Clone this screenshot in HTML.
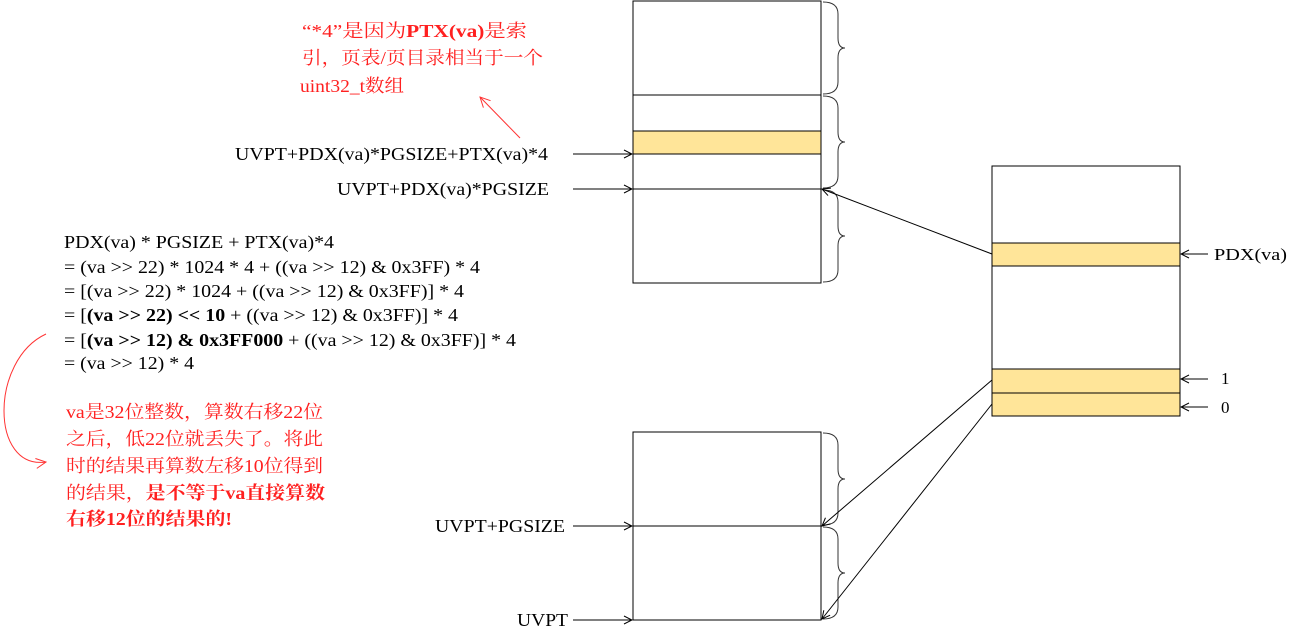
<!DOCTYPE html>
<html><head><meta charset="utf-8"><style>
html,body{margin:0;padding:0;background:#fff;}
svg{display:block;}
text{font-family:"Liberation Serif","Noto Serif CJK SC","Noto Sans CJK SC",serif;}
</style></head><body>
<svg width="1297" height="642" viewBox="0 0 1297 642" xmlns="http://www.w3.org/2000/svg">
<defs>
<marker id="ab" markerWidth="10" markerHeight="10" refX="9" refY="5" orient="auto" markerUnits="userSpaceOnUse"><path d="M1,1 L9,5 L1,9" fill="none" stroke="#000" stroke-width="1"/></marker>
<marker id="ar" markerWidth="12" markerHeight="12" refX="11" refY="6" orient="auto" markerUnits="userSpaceOnUse"><path d="M1,1 L11,6 L1,11" fill="none" stroke="#f33" stroke-width="1"/></marker>
</defs>
<g>
<rect x="633" y="1" width="188" height="282" fill="#fff" stroke="#000"/>
<rect x="633" y="131" width="188" height="23" fill="#ffe599" stroke="#000"/>
<line x1="633" y1="95" x2="821" y2="95" stroke="#000"/>
<line x1="633" y1="189" x2="821" y2="189" stroke="#000"/>
</g>
<g fill="none" stroke="#333">
<path d="M823,2 Q838,2 838,14 L838,38 Q838,48 845,48 Q838,48 838,58 L838,82 Q838,94 823,94"/>
<path d="M823,96 Q838,96 838,108 L838,132 Q838,142 845,142 Q838,142 838,152 L838,176 Q838,188 823,188"/>
<path d="M823,190 Q838,190 838,202 L838,226 Q838,236 845,236 Q838,236 838,246 L838,270 Q838,282 823,282"/>
</g>
<g>
<rect x="633" y="432" width="188" height="188" fill="#fff" stroke="#000"/>
<line x1="633" y1="526" x2="821" y2="526" stroke="#000"/>
</g>
<g fill="none" stroke="#333">
<path d="M823,433 Q838,433 838,445 L838,469 Q838,479 845,479 Q838,479 838,489 L838,513 Q838,525 823,525"/>
<path d="M823,527 Q838,527 838,539 L838,563 Q838,573 845,573 Q838,573 838,583 L838,607 Q838,619 823,619"/>
</g>
<g>
<rect x="992" y="166" width="188" height="250" fill="#fff" stroke="#000"/>
<rect x="992" y="243" width="188" height="23" fill="#ffe599" stroke="#000"/>
<rect x="992" y="369" width="188" height="24" fill="#ffe599" stroke="#000"/>
<rect x="992" y="393" width="188" height="23" fill="#ffe599" stroke="#000"/>
</g>
<g stroke="#000">
<line x1="1208" y1="254" x2="1181" y2="254" marker-end="url(#ab)"/>
<line x1="1208" y1="379" x2="1181" y2="379" marker-end="url(#ab)"/>
<line x1="1208" y1="407" x2="1181" y2="407" marker-end="url(#ab)"/>
</g>
<text x="1214" y="260" font-size="17" textLength="73" lengthAdjust="spacingAndGlyphs">PDX(va)</text>
<text x="1221" y="384" font-size="17">1</text>
<text x="1221" y="413" font-size="17">0</text>
<g stroke="#000" stroke-width="1">
<line x1="992" y1="254" x2="822" y2="189" marker-end="url(#ab)"/>
<line x1="992" y1="380" x2="822" y2="526" marker-end="url(#ab)"/>
<line x1="992" y1="404" x2="822" y2="619" marker-end="url(#ab)"/>
<line x1="573" y1="154" x2="632" y2="154" marker-end="url(#ab)"/>
<line x1="573" y1="189" x2="632" y2="189" marker-end="url(#ab)"/>
<line x1="573" y1="526" x2="632" y2="526" marker-end="url(#ab)"/>
<line x1="573" y1="620" x2="632" y2="620" marker-end="url(#ab)"/>
</g>
<g font-size="18" fill="#000">
<text x="235" y="160" textLength="313" lengthAdjust="spacingAndGlyphs">UVPT+PDX(va)*PGSIZE+PTX(va)*4</text>
<text x="337" y="195" textLength="212" lengthAdjust="spacingAndGlyphs">UVPT+PDX(va)*PGSIZE</text>
<text x="435" y="532" textLength="130" lengthAdjust="spacingAndGlyphs">UVPT+PGSIZE</text>
<text x="517" y="626" textLength="51" lengthAdjust="spacingAndGlyphs">UVPT</text>
</g>
<g font-size="18" fill="#ff2020">
<text x="302" y="37" textLength="225" lengthAdjust="spacingAndGlyphs">“*4”是因为<tspan font-weight="bold">PTX(va)</tspan>是索</text>
<text x="302" y="64" textLength="241" lengthAdjust="spacingAndGlyphs">引，页表/页目录相当于一个</text>
<text x="300" y="92" textLength="104" lengthAdjust="spacingAndGlyphs">uint32_t数组</text>
</g>
<line x1="520" y1="138" x2="480" y2="97" stroke="#f33" marker-end="url(#ar)"/>
<g font-size="18" fill="#000">
<text x="64" y="248" textLength="270" lengthAdjust="spacingAndGlyphs">PDX(va) * PGSIZE + PTX(va)*4</text>
<text x="64" y="273" textLength="416" lengthAdjust="spacingAndGlyphs">= (va &gt;&gt; 22) * 1024 * 4 + ((va &gt;&gt; 12) &amp; 0x3FF) * 4</text>
<text x="64" y="297" textLength="400" lengthAdjust="spacingAndGlyphs">= [(va &gt;&gt; 22) * 1024 + ((va &gt;&gt; 12) &amp; 0x3FF)] * 4</text>
<text x="64" y="321" textLength="394" lengthAdjust="spacingAndGlyphs">= [<tspan font-weight="bold">(va &gt;&gt; 22) &lt;&lt; 10</tspan> + ((va &gt;&gt; 12) &amp; 0x3FF)] * 4</text>
<text x="64" y="346" textLength="452" lengthAdjust="spacingAndGlyphs">= [<tspan font-weight="bold">(va &gt;&gt; 12) &amp; 0x3FF000</tspan> + ((va &gt;&gt; 12) &amp; 0x3FF)] * 4</text>
<text x="64" y="369" textLength="130" lengthAdjust="spacingAndGlyphs">= (va &gt;&gt; 12) * 4</text>
</g>
<path d="M46,334 C-10,360 -10,470 46,462" fill="none" stroke="#f33" marker-end="url(#ar)"/>
<g font-size="18" fill="#ff2020">
<text x="66" y="418" textLength="257" lengthAdjust="spacingAndGlyphs">va是32位整数，算数右移22位</text>
<text x="66" y="445" textLength="257" lengthAdjust="spacingAndGlyphs">之后，低22位就丢失了。将此</text>
<text x="66" y="472" textLength="257" lengthAdjust="spacingAndGlyphs">时的结果再算数左移10位得到</text>
<text x="66" y="499" textLength="259" lengthAdjust="spacingAndGlyphs">的结果，<tspan font-weight="bold">是不等于va直接算数</tspan></text>
<text x="66" y="525" font-weight="bold" textLength="166" lengthAdjust="spacingAndGlyphs">右移12位的结果的!</text>
</g>
</svg>
</body></html>
